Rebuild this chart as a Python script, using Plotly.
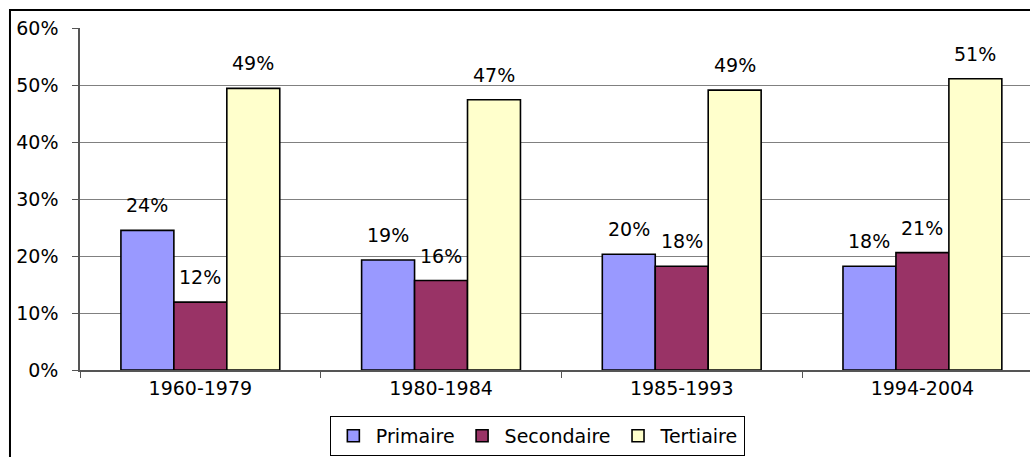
import plotly.graph_objects as go

# Répartition par secteur, en parts (0-1)
periodes = ["1960-1979", "1980-1984", "1985-1993", "1994-2004"]
primaire = [0.245, 0.193, 0.203, 0.182]
secondaire = [0.119, 0.157, 0.182, 0.206]
tertiaire = [0.494, 0.474, 0.491, 0.511]
y_ticks = [0, 0.1, 0.2, 0.3, 0.4, 0.5, 0.6]

series = [
    ("Primaire", primaire, "#9999FF"),
    ("Secondaire", secondaire, "#993366"),
    ("Tertiaire", tertiaire, "#FFFFCC"),
]

FONT = "DejaVu Sans"
FS = 19
fig = go.Figure()
for name, vals, color in series:
    fig.add_trace(go.Bar(
        name=name, x=periodes, y=vals,
        marker=dict(color=color, line=dict(color="black", width=1.6)),
    ))

# Étiquettes de valeur au-dessus de chaque barre
bar_w = (1 - 0.34) / 3
for k, (name, vals, color) in enumerate(series):
    for i, v in enumerate(vals):
        fig.add_annotation(
            x=i + (k - 1) * bar_w, y=v, xref="x", yref="y",
            text=f"{round(v * 100):d}%", showarrow=False,
            yanchor="middle", yshift=25,
            font=dict(family=FONT, size=FS, color="black"),
        )

# Cadre extérieur du graphique
fig.add_shape(type="rect", xref="paper", yref="paper",
              x0=-0.0737, x1=1.2, y0=-0.6, y1=1.0526,
              line=dict(color="black", width=2), layer="below")

fig.update_layout(
    width=1030, height=457,
    margin=dict(l=80, r=0, t=28, b=87),
    paper_bgcolor="white", plot_bgcolor="white",
    barmode="group", bargap=0.34, bargroupgap=0,
    font=dict(family=FONT, size=FS, color="black"),
    showlegend=True,
    legend=dict(
        orientation="h", x=0.263, xanchor="left", y=-0.134, yanchor="top",
        bordercolor="black", borderwidth=1, bgcolor="white",
        font=dict(family=FONT, size=FS), itemwidth=35,
        tracegroupgap=0,
    ),
    xaxis=dict(
        type="category", range=[-0.5, 3.447],
        showline=True, linecolor="#555555", linewidth=1.5,
        ticks="outside", tickson="boundaries", ticklen=6, tickcolor="#555555",
        showgrid=False, tickfont=dict(family=FONT, size=FS),
    ),
    yaxis=dict(
        range=[0, 0.6], tickvals=y_ticks, tickformat=".0%",
        showline=True, linecolor="#555555", linewidth=1.5,
        ticks="outside", ticklen=6, tickcolor="#555555",
        showgrid=True, gridcolor="#808080", gridwidth=1.2,
        zeroline=False, ticklabelstandoff=10,
        tickfont=dict(family=FONT, size=FS),
    ),
)

fig.write_html("out.html")
